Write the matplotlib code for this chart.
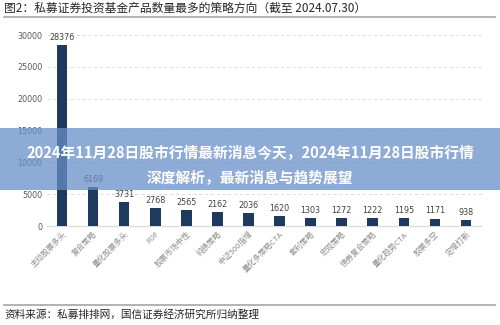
import matplotlib.pyplot as plt
from matplotlib.patches import Rectangle
from matplotlib.lines import Line2D

plt.rcParams['font.family'] = ['Noto Sans CJK SC', 'DejaVu Sans']

strategies = ['主动股票多头', '复合策略', '量化股票多头', 'FOF', '股票市场中性', '纯债策略',
              '中证500指增', '量化多策略CTA', '套利策略', '宏观策略', '债券复合策略',
              '量化趋势CTA', '股票多空', '定增打新']
counts = [28376, 6169, 3731, 2768, 2565, 2162, 2036, 1620, 1303, 1272, 1222, 1195, 1171, 938]
yticks = [0, 5000, 10000, 15000, 20000, 25000, 30000]

fig = plt.figure(figsize=(5, 3.25), dpi=100)
ax = fig.add_axes([0.093, 0.3046, 0.87, 0.5874])

x = range(len(counts))
ax.bar(x, counts, width=0.34, color='#1f3a5f', zorder=3)
for i, v in zip(x, counts):
    ax.text(i, v + 500, str(v), ha='center', va='bottom', fontsize=5.8, color='#404040',
            family=['DejaVu Sans'])

ax.set_xlim(-0.5, len(counts) - 0.5)
ax.set_ylim(0, 30000)
ax.set_yticks(yticks)
ax.set_yticklabels([str(t) for t in yticks], fontsize=5.8, color='#595959', family=['DejaVu Sans'])
ax.set_xticks(list(x))
ax.set_xticklabels(strategies, rotation=45, ha='right', rotation_mode='anchor',
                   fontsize=5.6, color='#8c8c8c')
ax.tick_params(length=0, pad=3)
ax.grid(axis='y', linestyle=(0, (4, 3)), color='#d9d9d9', linewidth=0.6, zorder=0)
for s in ['top', 'right', 'left']:
    ax.spines[s].set_visible(False)
ax.spines['bottom'].set_color('#d9d9d9')
ax.spines['bottom'].set_linewidth(0.8)

# title and source
fig.text(0.008, 0.975, '图2：私募证券投资基金产品数量最多的策略方向（截至 2024.07.30）',
         fontsize=8.5, color='#262626', va='center')
fig.add_artist(Line2D([0.008, 0.99], [0.948, 0.948], color='#a6a6a6', linewidth=1.2))
fig.add_artist(Line2D([0.008, 0.99], [0.062, 0.062], color='#a6a6a6', linewidth=1.2))
fig.text(0.008, 0.032, '资料来源：私募排排网，国信证券经济研究所归纳整理',
         fontsize=7.7, color='#262626', va='center')

# banner across the middle
fig.add_artist(Rectangle((0, 0.415), 1, 0.191, transform=fig.transFigure,
                         facecolor=(0.41, 0.56, 0.78), alpha=0.75, edgecolor='none', zorder=10))
fig.text(0.5, 0.532, '2024年11月28日股市行情最新消息今天，2024年11月28日股市行情',
         fontsize=10.6, color='white', fontweight='bold', ha='center', va='center', zorder=11)
fig.text(0.5, 0.455, '深度解析，最新消息与趋势展望',
         fontsize=10.6, color='white', fontweight='bold', ha='center', va='center', zorder=11)

fig.savefig('out.png', dpi=100)
